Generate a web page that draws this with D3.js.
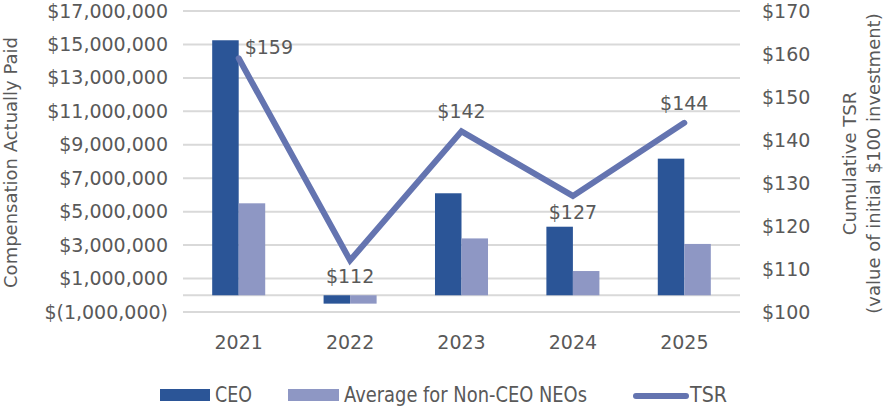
<!DOCTYPE html>
<html>
<head>
<meta charset="utf-8">
<script src="https://cdn.jsdelivr.net/npm/d3@7/dist/d3.min.js"></script>
<style>
  html, body { margin: 0; padding: 0; background: #fff; }
  svg { display: block; font-family: "DejaVu Sans", sans-serif; }
</style>
</head>
<body>
<svg id="chart" width="888" height="407"></svg>
<script>
// ---- data ----
const years = ["2021", "2022", "2023", "2024", "2025"];
const ceoCAP = [15250000, -500000, 6100000, 4100000, 8170000];
const neoCAP = [5500000, -500000, 3400000, 1450000, 3070000];
const tsr = [159, 112, 142, 127, 144];
const tsrLabelPos = ["right", "below", "above", "below", "above"];
const leftTicks = [-1000000, 1000000, 3000000, 5000000, 7000000, 9000000, 11000000, 13000000, 15000000, 17000000];
const rightTicks = [100, 110, 120, 130, 140, 150, 160, 170];
const seriesNames = ["CEO", "Average for Non-CEO NEOs", "TSR"];

// ---- layout ----
const W = 888, H = 407;
const plot = { left: 183, right: 740, top: 11, bottom: 312 };
const colors = { ceo: "#2b5597", neo: "#8e97c4", tsr: "#6474b0", grid: "#d9d9d9", text: "#595959" };

const svg = d3.select("#chart");

const x = d3.scaleBand().domain(years).range([plot.left, plot.right]).padding(0);
const yL = d3.scaleLinear().domain([-1000000, 17000000]).range([plot.bottom, plot.top]);
const yR = d3.scaleLinear().domain([100, 170]).range([plot.bottom, plot.top]);

const groupW = x.bandwidth() * 0.476;
const xSub = d3.scaleBand().domain(["ceo", "neo"]).range([0, groupW]).padding(0);

const fmtNum = d3.format(",");
const fmtMoney = v => v < 0 ? "$(" + fmtNum(-v) + ")" : "$" + fmtNum(v);

// gridlines
svg.append("g").selectAll("line").data(leftTicks.concat([0])).join("line")
  .attr("x1", plot.left).attr("x2", plot.right)
  .attr("y1", d => yL(d)).attr("y2", d => yL(d))
  .attr("stroke", colors.grid).attr("stroke-width", 2);

// left axis
const gL = svg.append("g").attr("transform", `translate(${plot.left - 15},0)`)
  .call(d3.axisLeft(yL).tickValues(leftTicks).tickFormat(fmtMoney).tickSize(0).tickPadding(0));
gL.select(".domain").remove();
gL.selectAll("text").attr("fill", colors.text).style("font-size", "19px")
  .style("font-family", "DejaVu Sans, sans-serif");

// right axis
const gR = svg.append("g").attr("transform", `translate(${plot.right + 22},0)`)
  .call(d3.axisRight(yR).tickValues(rightTicks).tickFormat(d => "$" + d).tickSize(0).tickPadding(0));
gR.select(".domain").remove();
gR.selectAll("text").attr("fill", colors.text).style("font-size", "19px")
  .style("font-family", "DejaVu Sans, sans-serif");

// x axis labels
const gX = svg.append("g").attr("transform", `translate(0,${plot.bottom})`)
  .call(d3.axisBottom(x).tickSize(0).tickPadding(0));
gX.select(".domain").remove();
gX.selectAll("text").attr("fill", colors.text).style("font-size", "19px")
  .style("font-family", "DejaVu Sans, sans-serif").attr("dy", null).attr("y", 37);

// bars
const barData = [];
years.forEach((yr, i) => {
  barData.push({ yr, key: "ceo", v: ceoCAP[i] });
  barData.push({ yr, key: "neo", v: neoCAP[i] });
});
svg.append("g").selectAll("rect").data(barData).join("rect")
  .attr("x", d => x(d.yr) + (x.bandwidth() - groupW) / 2 + xSub(d.key))
  .attr("width", xSub.bandwidth())
  .attr("y", d => yL(Math.max(0, d.v)))
  .attr("height", d => Math.abs(yL(d.v) - yL(0)))
  .attr("fill", d => colors[d.key]);

// TSR line
const cx = yr => x(yr) + x.bandwidth() / 2;
const line = d3.line().x((d, i) => cx(years[i])).y(d => yR(d));
svg.append("path").datum(tsr).attr("d", line)
  .attr("fill", "none").attr("stroke", colors.tsr).attr("stroke-width", 6)
  .attr("stroke-linejoin", "miter").attr("stroke-linecap", "round");

// TSR labels
svg.append("g").selectAll("text").data(tsr).join("text")
  .attr("x", (d, i) => tsrLabelPos[i] === "right" ? cx(years[i]) + 6 : cx(years[i]))
  .attr("y", (d, i) => {
    const p = tsrLabelPos[i];
    if (p === "right") return yR(d) - 4;
    if (p === "above") return yR(d) - 13;
    return yR(d) + 23;
  })
  .attr("text-anchor", (d, i) => tsrLabelPos[i] === "right" ? "start" : "middle")
  .attr("fill", colors.text).style("font-size", "19px")
  .text(d => "$" + d);

// axis titles
svg.append("text")
  .attr("transform", `translate(11,${(plot.top + plot.bottom) / 2 + 1}) rotate(-90)`)
  .attr("text-anchor", "middle").attr("dy", "0.35em")
  .attr("fill", colors.text).style("font-size", "18px")
  .text("Compensation Actually Paid");

const rt = svg.append("text")
  .attr("transform", `translate(850,${(plot.top + plot.bottom) / 2 + 2}) rotate(-90)`)
  .attr("text-anchor", "middle")
  .attr("fill", colors.text).style("font-size", "18px");
rt.append("tspan").attr("x", 0).attr("dy", "0.35em").text("Cumulative TSR");
rt.append("tspan").attr("x", 0).attr("dy", "24px").text("(value of initial $100 investment)");

// legend
const lg = svg.append("g");
lg.append("rect").attr("x", 160).attr("y", 389).attr("width", 50).attr("height", 12).attr("fill", colors.ceo);
lg.append("text").attr("x", 215).attr("y", 402).attr("fill", colors.text).style("font-size", "21px")
  .attr("textLength", 37).attr("lengthAdjust", "spacingAndGlyphs").text(seriesNames[0]);
lg.append("rect").attr("x", 288).attr("y", 389).attr("width", 51).attr("height", 12).attr("fill", colors.neo);
lg.append("text").attr("x", 344).attr("y", 402).attr("fill", colors.text).style("font-size", "21px")
  .attr("textLength", 243).attr("lengthAdjust", "spacingAndGlyphs").text(seriesNames[1]);
lg.append("line").attr("x1", 636).attr("x2", 686).attr("y1", 396).attr("y2", 396)
  .attr("stroke", colors.tsr).attr("stroke-width", 6).attr("stroke-linecap", "round");
lg.append("text").attr("x", 690).attr("y", 402).attr("fill", colors.text).style("font-size", "21px")
  .attr("textLength", 37).attr("lengthAdjust", "spacingAndGlyphs").text(seriesNames[2]);
</script>
</body>
</html>
